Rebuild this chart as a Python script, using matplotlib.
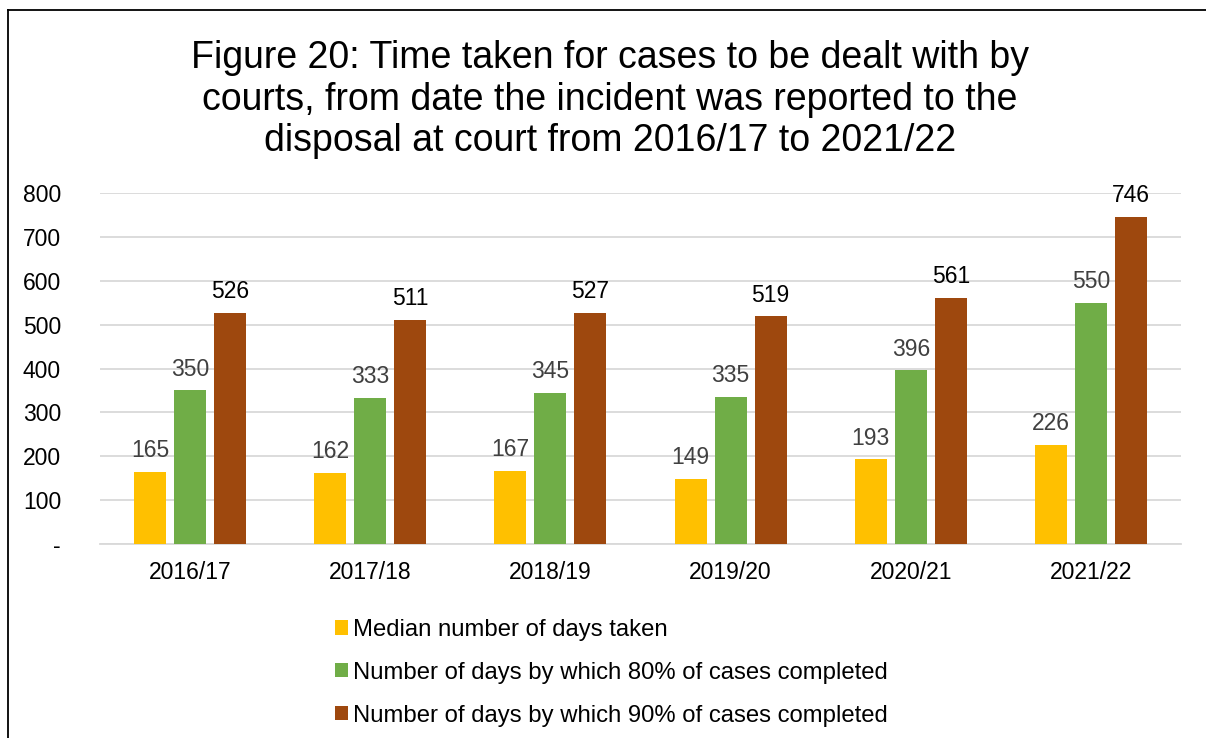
import matplotlib
matplotlib.use("Agg")
import matplotlib.pyplot as plt
from matplotlib.lines import Line2D
from matplotlib.patches import Patch
import numpy as np

categories = ["2016/17", "2017/18", "2018/19", "2019/20", "2020/21", "2021/22"]
median_days = [165, 162, 167, 149, 193, 226]
days_80 = [350, 333, 345, 335, 396, 550]
days_90 = [526, 511, 527, 519, 561, 746]
series_labels = ["Median number of days taken",
                 "Number of days by which 80% of cases completed",
                 "Number of days by which 90% of cases completed"]
colors = ["#FFC000", "#70AD47", "#9E480E"]
label_colors = ["#404040", "#404040", "#000000"]
yticks = [0, 100, 200, 300, 400, 500, 600, 700, 800]
ytick_labels = ["-", "100", "200", "300", "400", "500", "600", "700", "800"]
title = ("Figure 20: Time taken for cases to be dealt with by\n"
         "courts, from date the incident was reported to the\n"
         "disposal at court from 2016/17 to 2021/22")

plt.rcParams['font.family'] = ['Liberation Sans', 'DejaVu Sans']

W, H = 1206, 738
fig = plt.figure(figsize=(W / 100, H / 100), dpi=100)
fig.patch.set_facecolor("white")

left, right, top, bottom = 100, 1181, 193, 544
ax = fig.add_axes([left / W, 1 - bottom / H, (right - left) / W, (bottom - top) / H])

x = np.arange(len(categories))
bw = 0.178
step = 0.222
series = [median_days, days_80, days_90]
handles = []
for i, (vals, c, lc) in enumerate(zip(series, colors, label_colors)):
    pos = x + (i - 1) * step
    ax.bar(pos, vals, width=bw, color=c, zorder=3)
    for p, v in zip(pos, vals):
        ax.annotate(str(v), xy=(p, v), xytext=(0, 7), textcoords="offset points",
                    ha="center", va="bottom", fontsize=16.5, color=lc)
    handles.append(Patch(facecolor=c, edgecolor="none"))

ax.set_xlim(-0.5, len(categories) - 0.5)
ax.set_ylim(0, 800)
ax.set_yticks(yticks)
ax.set_yticklabels(ytick_labels)
ax.set_xticks(x)
ax.set_xticklabels(categories)
ax.tick_params(axis="both", length=0, labelsize=16.5, colors="#000000")
ax.tick_params(axis="y", pad=28)
ax.tick_params(axis="x", pad=12)
ax.grid(axis="y", color="#D9D9D9", linewidth=1.3, zorder=0)
for s in ["top", "right", "left"]:
    ax.spines[s].set_visible(False)
ax.spines["bottom"].set_color("#D9D9D9")
ax.spines["bottom"].set_linewidth(1.3)

fig.text(610 / W, 1 - 40 / H, title, ha="center", va="top", fontsize=27,
         linespacing=1.2, color="#000000")

fig.legend(handles, series_labels, loc="upper left",
           bbox_to_anchor=(323 / W, 1 - 607 / H), frameon=False,
           fontsize=17.2, handlelength=0.55, handleheight=0.55,
           handletextpad=0.2, labelspacing=0.87, borderpad=0)

# chart border (left and top)
fig.add_artist(Line2D([8 / W, 8 / W], [0, 1 - 10 / H], transform=fig.transFigure,
                      color="black", linewidth=1.3))
fig.add_artist(Line2D([8 / W, 1], [1 - 10 / H, 1 - 10 / H], transform=fig.transFigure,
                      color="black", linewidth=1.3))

fig.savefig("out.png", dpi=100)
